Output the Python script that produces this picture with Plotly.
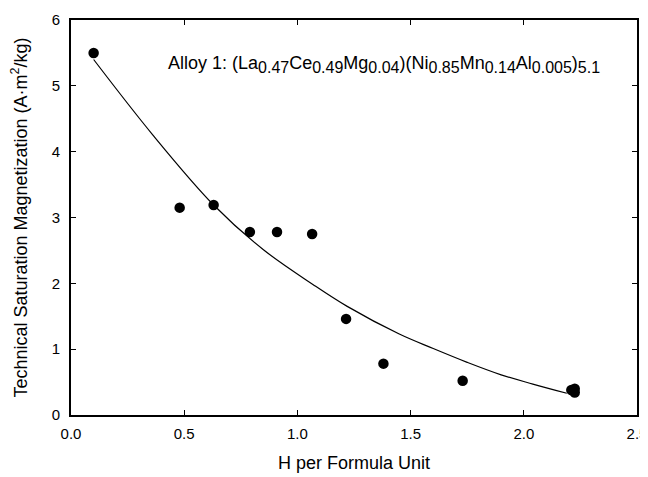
import plotly.graph_objects as go

# measured points
h_per_fu = [0.10, 0.48, 0.63, 0.79, 0.91, 1.065, 1.215, 1.38, 1.73, 2.21, 2.225, 2.225]
magnetization = [5.50, 3.15, 3.19, 2.78, 2.78, 2.75, 1.46, 0.78, 0.52, 0.38, 0.40, 0.34]

# fitted curve
fit_x = [0.10, 0.36, 0.63, 0.85, 1.07, 1.22, 1.45, 1.60, 1.75, 1.90, 2.04, 2.19]
fit_y = [5.40, 4.26, 3.19, 2.51, 1.98, 1.65, 1.23, 1.01, 0.80, 0.61, 0.47, 0.33]

FONT = "Liberation Sans, Arial, sans-serif"


def sub(s):
    return '<sub><span style="font-size:16px">' + s + '</span></sub>'


label = ("Alloy 1: (La" + sub("0.47") + "Ce" + sub("0.49") + "Mg" + sub("0.04") + ")(Ni" + sub("0.85")
         + "Mn" + sub("0.14") + "Al" + sub("0.005") + ")" + sub("5.1"))

fig = go.Figure()
fig.add_trace(go.Scatter(x=fit_x, y=fit_y, mode='lines', line=dict(color='black', width=1.2, shape='spline'),
                         showlegend=False, hoverinfo='skip'))
fig.add_trace(go.Scatter(x=h_per_fu, y=magnetization, mode='markers',
                         marker=dict(color='black', size=10.5), showlegend=False))

fig.add_annotation(x=0.42, y=5.33, xref='x', yref='y', xanchor='left', yanchor='middle', showarrow=False,
                   text=label, font=dict(size=18, color='black', family=FONT))

axis_style = dict(showline=True, linewidth=2, linecolor='black', mirror='ticks', ticks='inside',
                  ticklen=5, tickwidth=1, tickcolor='black', showgrid=False, zeroline=False,
                  automargin=False, ticklabeloverflow='allow',
                  tickfont=dict(size=15, color='black', family=FONT))

fig.update_xaxes(range=[0, 2.5], dtick=0.5, tickformat='.1f', ticklabelstandoff=4,
                 title=dict(text='H per Formula Unit', font=dict(size=18, color='black', family=FONT), standoff=15),
                 **axis_style)
fig.update_yaxes(range=[0, 6], dtick=1, ticklabelstandoff=6,
                 title=dict(text='Technical Saturation Magnetization (A·m<sup>2</sup>/kg)',
                            font=dict(size=18, color='black', family=FONT), standoff=20),
                 **axis_style)

# page body has an 8px margin; the figure is offset by it, extra right margin keeps "2.5" inside the svg
fig.update_layout(width=648, height=469, margin=dict(l=63, r=19, t=12, b=62),
                  plot_bgcolor='white', paper_bgcolor='white')

fig.write_html("out.html")
